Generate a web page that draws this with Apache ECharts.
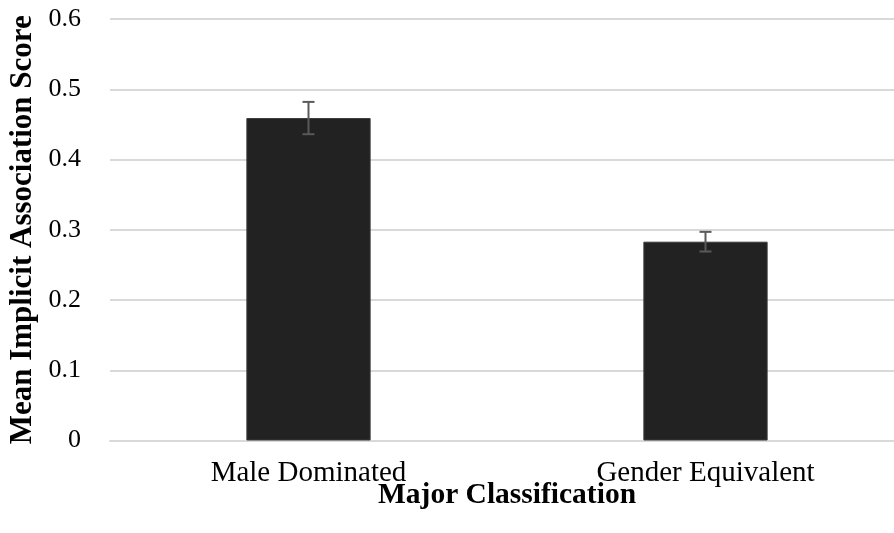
<!DOCTYPE html>
<html>
<head>
<meta charset="utf-8">
<script src="https://cdn.jsdelivr.net/npm/echarts@6/dist/echarts.min.js"></script>
<style>html,body{margin:0;padding:0;background:#fff;}#c{width:894px;height:533px;}</style>
</head>
<body>
<div id="c"></div>
<script>
const categories = ['Male Dominated', 'Gender Equivalent'];
const means = [0.459, 0.283];
const errors = [0.023, 0.014];
const yTicks = [0, 0.1, 0.2, 0.3, 0.4, 0.5, 0.6];

const chart = echarts.init(document.getElementById('c'), null, {renderer: 'canvas'});
const font = '"Liberation Serif", "Times New Roman", serif';
const errData = categories.map((c, i) => [i, means[i] - errors[i], means[i] + errors[i]]);

chart.setOption({
  animation: false,
  backgroundColor: '#fff',
  grid: {left: 110, width: 794, top: 19, bottom: 92.5, containLabel: false, outerBoundsMode: 'none'},
  xAxis: {
    type: 'category',
    data: categories,
    name: 'Major Classification',
    nameLocation: 'middle',
    nameGap: 40,
    nameMoveOverlap: false,
    nameTextStyle: {fontFamily: font, fontSize: 29.5, fontWeight: 'bold', color: '#000', verticalAlign: 'top'},
    axisLine: {show: true, lineStyle: {color: '#d9d9d9', width: 2}},
    axisTick: {show: false},
    axisLabel: {fontFamily: font, fontSize: 29, color: '#000', margin: 18},
    splitLine: {show: false}
  },
  yAxis: {
    type: 'value',
    min: 0, max: 0.6, interval: 0.1,
    name: 'Mean Implicit Association Score',
    nameLocation: 'middle',
    nameGap: 72,
    nameMoveOverlap: false,
    nameTextStyle: {fontFamily: font, fontSize: 31, fontWeight: 'bold', color: '#000'},
    axisLine: {show: false},
    axisTick: {show: false},
    axisLabel: {fontFamily: font, fontSize: 26, color: '#000', margin: 29,
      formatter: v => { const t = yTicks.find(x => Math.abs(x - v) < 1e-9); return t === 0 ? '0' : String(t !== undefined ? t : v); }},
    splitLine: {show: true, lineStyle: {color: '#d9d9d9', width: 2}}
  },
  series: [
    {
      type: 'bar',
      data: means,
      barWidth: '31.3%',
      itemStyle: {color: '#222222', borderColor: '#3a3a3a', borderWidth: 1}
    },
    {
      type: 'custom',
      data: errData,
      z: 10,
      renderItem: function (params, api) {
        const x = api.value(0);
        const lo = api.coord([x, api.value(1)]);
        const hi = api.coord([x, api.value(2)]);
        const hw = 6;
        const style = {stroke: '#595959', lineWidth: 2};
        return {
          type: 'group',
          children: [
            {type: 'line', shape: {x1: lo[0], y1: lo[1], x2: hi[0], y2: hi[1]}, style},
            {type: 'line', shape: {x1: hi[0] - hw, y1: hi[1], x2: hi[0] + hw, y2: hi[1]}, style},
            {type: 'line', shape: {x1: lo[0] - hw, y1: lo[1], x2: lo[0] + hw, y2: lo[1]}, style}
          ]
        };
      }
    }
  ]
});
</script>
</body>
</html>
